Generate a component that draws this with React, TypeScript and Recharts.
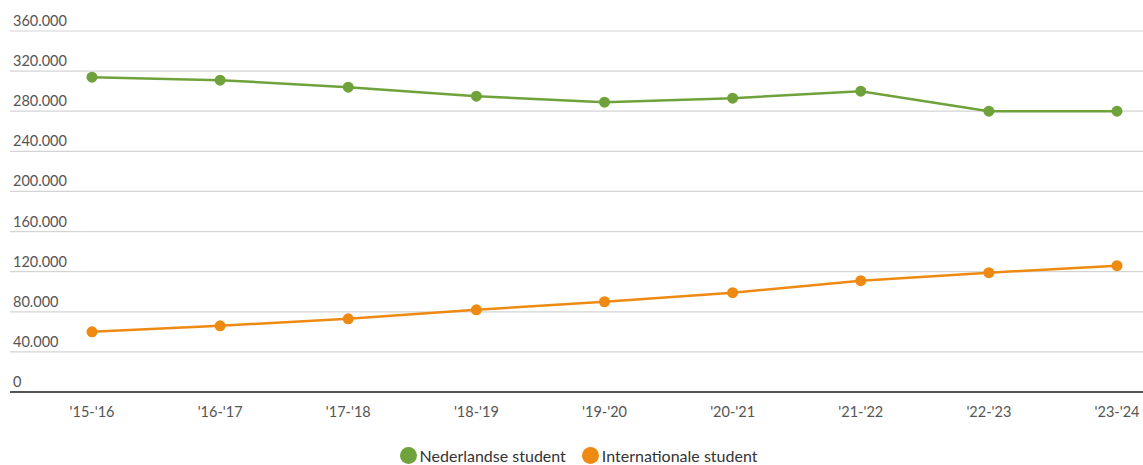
import React from 'react';
import { LineChart, Line, XAxis, YAxis, CartesianGrid, Legend } from 'recharts';

const categories = ["'15-'16", "'16-'17", "'17-'18", "'18-'19", "'19-'20", "'20-'21", "'21-'22", "'22-'23", "'23-'24"];
const nederlandse = [314000, 311000, 304000, 295000, 289000, 293000, 300000, 280000, 280000];
const internationale = [60000, 66000, 73000, 82000, 90000, 99000, 111000, 119000, 126000];
const yTicks = [0, 40000, 80000, 120000, 160000, 200000, 240000, 280000, 320000, 360000];

const seriesNames = ['Nederlandse student', 'Internationale student'];
const colors = ['#6fa23a', '#ee8a12'];

const data = categories.map((c, i) => ({ cat: c, ned: nederlandse[i], int: internationale[i] }));

const FONT = 'Lato, "Noto Sans", sans-serif';

const fmt = (v: number) => (v === 0 ? '0' : v.toLocaleString('de-DE'));

const renderYTick = (props: any) => {
  const { y, payload } = props;
  return (
    <text key={payload.value} x={13} y={y - 5} textAnchor="start" fill="#555" fontSize={14.5} fontFamily={FONT}>
      {fmt(payload.value)}
    </text>
  );
};

const LegendContent = () => (
  <div style={{ display: 'flex', justifyContent: 'center', gap: 16, fontFamily: FONT, fontSize: 16, color: '#333', paddingTop: 14, marginLeft: 14 }}>
    {seriesNames.map((n, i) => (
      <div key={n} style={{ display: 'flex', alignItems: 'center', gap: 3 }}>
        <span style={{ width: 17, height: 17, borderRadius: 9, background: colors[i], display: 'inline-block' }} />
        <span>{n}</span>
      </div>
    ))}
  </div>
);

export default function App() {
  return (
    <div style={{ position: 'absolute', left: 0, top: 0, background: '#fff' }}>
      <LineChart width={1143} height={465} data={data} margin={{ top: 31, right: 0, left: 0, bottom: 0 }}>
        <CartesianGrid vertical={false} stroke="#d4d4d4" strokeWidth={1.2} />
        <XAxis
          dataKey="cat"
          padding={{ left: 82, right: 26 }}
          axisLine={{ stroke: '#222', strokeWidth: 1.6 }}
          tickLine={false}
          tickMargin={9}
          height={40}
          tick={{ fill: '#555', fontSize: 14.5, fontFamily: FONT }}
          interval={0}
        />
        <YAxis
          width={10}
          domain={[0, 360000]}
          ticks={yTicks}
          axisLine={false}
          tickLine={false}
          tick={renderYTick}
          interval={0}
        />
        <Legend verticalAlign="bottom" height={33} content={<LegendContent />} />
        <Line type="linear" dataKey="ned" name={seriesNames[0]} stroke={colors[0]} strokeWidth={2.5}
          dot={{ r: 5.5, fill: colors[0], stroke: colors[0], strokeWidth: 0 }} isAnimationActive={false} />
        <Line type="linear" dataKey="int" name={seriesNames[1]} stroke={colors[1]} strokeWidth={2.5}
          dot={{ r: 5.5, fill: colors[1], stroke: colors[1], strokeWidth: 0 }} isAnimationActive={false} />
      </LineChart>
    </div>
  );
}
